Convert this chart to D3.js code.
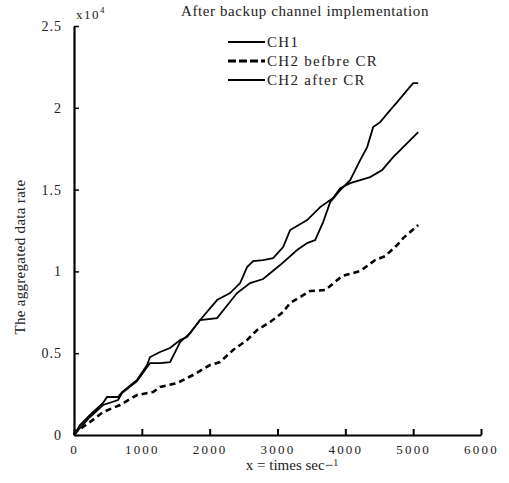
<!DOCTYPE html>
<html><head><meta charset="utf-8">
<script src="https://cdn.jsdelivr.net/npm/d3@7"></script>
<style>body{margin:0;background:#fff}svg{display:block}svg text{font-family:"Times New Roman","Liberation Serif",Times,serif !important;fill:#222}</style>
</head><body>
<script>
const title = "After backup channel implementation";
const seriesNames = ["CH1", "CH2 befbre CR", "CH2 after CR"];
const xTicks = [0, 1000, 2000, 3000, 4000, 5000, 6000];
const yTicks = [0, 5000, 10000, 15000, 20000, 25000];
const yTickLabels = ["0", "0.5", "1", "1.5", "2", "2.5"];

const ch1 = [[0,0],[89,611],[236,1222],[428,1955],[487,2322],[649,2322],[708,2627],[929,3361],[1077,4277],[1121,4766],[1269,5071],[1416,5316],[1564,5805],[1667,5988],[1859,7027],[2109,8249],[2301,8676],[2449,9287],[2552,10265],[2640,10631],[2788,10693],[2935,10815],[3083,11487],[3186,12526],[3437,13137],[3629,13931],[3820,14481],[3924,15092],[4071,15397],[4219,15581],[4366,15764],[4543,16192],[4705,16986],[4853,17597],[4986,18147],[5074,18513]];
const ch2Before = [[0,0],[30,183],[236,794],[428,1405],[678,1833],[929,2444],[1165,2627],[1269,2933],[1519,3177],[1755,3666],[2006,4277],[2153,4460],[2345,5194],[2552,5805],[2699,6416],[2891,6905],[3083,7516],[3186,8066],[3481,8799],[3703,8860],[3953,9715],[4219,10021],[4440,10693],[4587,10937],[4764,11609],[4853,12037],[5074,12831]];
const ch2After = [[0,0],[89,428],[236,1100],[428,1833],[649,2139],[708,2566],[929,3299],[1121,4399],[1269,4399],[1416,4460],[1564,5682],[1711,6232],[1859,7027],[2109,7149],[2404,8676],[2596,9287],[2788,9532],[3039,10387],[3289,11304],[3437,11731],[3555,11915],[3673,13014],[3776,14236],[3924,14970],[4071,15581],[4219,16803],[4322,17597],[4410,18819],[4514,19124],[4661,19858],[4764,20346],[4912,21080],[5000,21507],[5074,21507]];

const W = 509, H = 483;
const svg = d3.select("body").append("svg").attr("width", W).attr("height", H);
const x = d3.scaleLinear().domain([0, 6000]).range([74, 481]);
const y = d3.scaleLinear().domain([0, 25000]).range([435, 26]);

// axes
const xAxis = svg.append("g").attr("transform", `translate(0,${y(0)})`)
  .call(d3.axisBottom(x).tickValues(xTicks).tickFormat(d3.format("d")).tickSizeInner(-6).tickSizeOuter(0).tickPadding(10));
xAxis.select(".domain").attr("stroke", "#000").attr("stroke-width", 2.2);
xAxis.selectAll(".tick line").attr("stroke", "#000").attr("stroke-width", 2);
xAxis.selectAll(".tick text").attr("font-size", 13).attr("letter-spacing", 2.2).attr("fill", "#222");

const yAxis = svg.append("g").attr("transform", `translate(${x(0)},0)`)
  .call(d3.axisLeft(y).tickValues(yTicks).tickFormat((d, i) => yTickLabels[i]).tickSizeInner(-5).tickSizeOuter(0).tickPadding(12));
yAxis.select(".domain").attr("stroke", "#000").attr("stroke-width", 2.2);
yAxis.selectAll(".tick line").attr("stroke", "#000").attr("stroke-width", 1.5);
yAxis.selectAll(".tick text").attr("font-size", 14).attr("letter-spacing", 1).attr("fill", "#222");

// lines
const line = d3.line().x(d => x(d[0])).y(d => y(d[1]));
svg.append("path").datum(ch1).attr("d", line).attr("fill", "none").attr("stroke", "#000").attr("stroke-width", 1.8);
svg.append("path").datum(ch2After).attr("d", line).attr("fill", "none").attr("stroke", "#000").attr("stroke-width", 1.8);
svg.append("path").datum(ch2Before).attr("d", line).attr("fill", "none").attr("stroke", "#000").attr("stroke-width", 2.6).attr("stroke-dasharray", "6,4");

// exponent
const ex = svg.append("text").attr("x", 76).attr("y", 19).attr("font-size", 13).attr("letter-spacing", 1.5);
ex.append("tspan").text("x10");
ex.append("tspan").attr("dy", -6).attr("font-size", 9).text("4");

// title
svg.append("text").attr("x", 305).attr("y", 16).attr("text-anchor", "middle").attr("font-size", 15).attr("letter-spacing", 0.6).text(title);

// legend
const styles = [{w:1.8, d:null}, {w:2.8, d:"8,3"}, {w:1.8, d:null}];
const lg = svg.append("g");
seriesNames.forEach((n, i) => {
  const yy = 42 + i * 19;
  lg.append("line").attr("x1", 228).attr("x2", 265).attr("y1", yy).attr("y2", yy)
    .attr("stroke", "#000").attr("stroke-width", styles[i].w).attr("stroke-dasharray", styles[i].d);
  lg.append("text").attr("x", 267).attr("y", yy + 5).attr("font-size", 15).attr("letter-spacing", 1.3).text(n);
});

// axis titles
svg.append("text").attr("transform", "translate(25,257) rotate(-90)").attr("text-anchor", "middle").attr("font-size", 15).attr("letter-spacing", 0.3).text("The aggregated data rate");
const xl = svg.append("text").attr("x", 292).attr("y", 470).attr("text-anchor", "middle").attr("font-size", 15);
xl.append("tspan").text("x = times sec");
xl.append("tspan").text("−");
xl.append("tspan").attr("dy", -4).attr("font-size", 10).text("1");
</script>
</body></html>
